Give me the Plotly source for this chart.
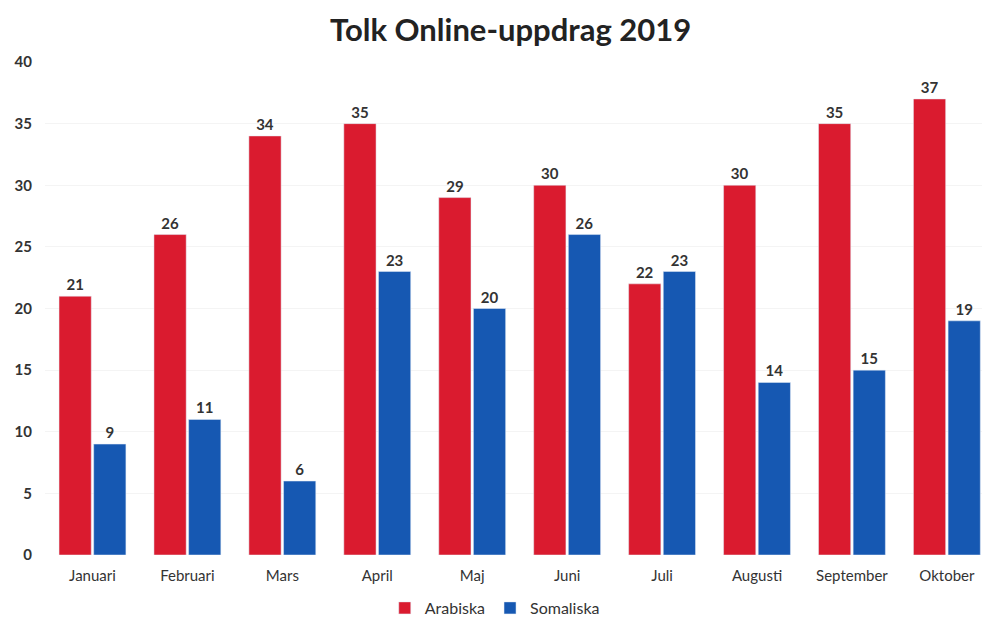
import plotly.graph_objects as go

months = ["Januari", "Februari", "Mars", "April", "Maj", "Juni", "Juli", "Augusti", "September", "Oktober"]
arabiska = [21, 26, 34, 35, 29, 30, 22, 30, 35, 37]
somaliska = [9, 11, 6, 23, 20, 26, 23, 14, 15, 19]
y_ticks = [0, 5, 10, 15, 20, 25, 30, 35, 40]

FONT = "Lato, Open Sans, sans-serif"
RED = "#DA1B2F"
BLUE = "#1658B2"

fig = go.Figure()
fig.add_trace(go.Bar(
    name="Arabiska", x=months, y=arabiska, marker_color=RED,
    text=arabiska, textposition="outside", cliponaxis=False,
    textfont=dict(family=FONT, size=15, color="#333333", weight="bold"),
))
fig.add_trace(go.Bar(
    name="Somaliska", x=months, y=somaliska, marker_color=BLUE,
    text=somaliska, textposition="outside", cliponaxis=False,
    textfont=dict(family=FONT, size=15, color="#333333", weight="bold"),
))

fig.update_layout(
    width=982, height=625,
    paper_bgcolor="white", plot_bgcolor="white",
    margin=dict(l=45, r=0, t=62, b=70, autoexpand=False),
    barmode="group", bargap=0.27, bargroupgap=0.07,
    title=dict(text="<b>Tolk Online-uppdrag 2019</b>", x=0.52, xanchor="center",
               y=0.952, yanchor="middle",
               font=dict(family=FONT, size=31, color="#222222")),
    showlegend=True,
    legend=dict(orientation="h", x=0.48, xanchor="center",
                yref="container", y=-0.008, yanchor="bottom",
                font=dict(family=FONT, size=16, color="#333333"),
                itemwidth=30, traceorder="normal"),
    xaxis=dict(range=[-0.5, 9.37], showgrid=False, showline=False, ticks="",
               automargin=False, ticklabelstandoff=10,
               tickfont=dict(family=FONT, size=15, color="#333333")),
    yaxis=dict(range=[0, 40], tickvals=y_ticks, showgrid=True, gridcolor="#f4f4f4",
               automargin=False,
               zeroline=False, showline=False, ticks="", ticklabelstandoff=12,
               tickfont=dict(family=FONT, size=15, color="#333333", weight="bold")),
)

fig.write_html("out.html", config={"displayModeBar": False},
               post_script="document.body.style.margin='0';")
